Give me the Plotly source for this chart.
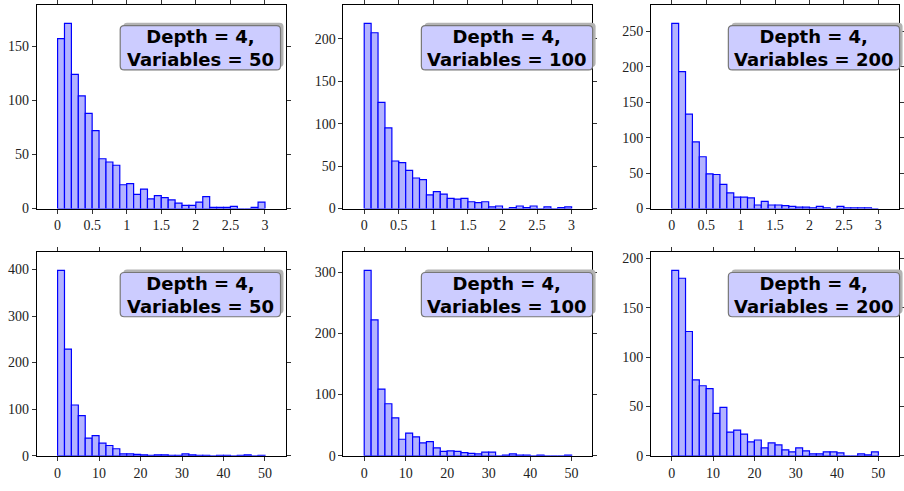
import numpy as np
import plotly.graph_objects as go

# ---- data (histogram counts, 30 bins each) ----
counts_d4_v50_a = [157, 171, 124, 104, 88, 72, 46, 43, 40, 22, 23, 13, 18, 9, 12,
                   10, 8, 5, 3, 3, 6, 11, 1, 1, 1, 2, 0, 0, 1, 6]
counts_d4_v100_a = [218, 207, 125, 95, 56, 54, 45, 36, 34, 16, 20, 17, 12, 11, 12,
                    8, 7, 8, 2, 3, 0, 1, 3, 1, 3, 0, 2, 0, 1, 2]
counts_d4_v200_a = [261, 193, 133, 94, 73, 49, 48, 34, 22, 16, 16, 15, 5, 10, 5,
                    5, 4, 3, 2, 2, 1, 3, 1, 0, 3, 1, 1, 1, 1, 0]
counts_d4_v50_b = [398, 229, 109, 86, 38, 43, 27, 22, 15, 4, 4, 3, 2, 1, 2,
                   2, 1, 1, 4, 2, 1, 1, 0, 1, 1, 0, 1, 2, 0, 1]
counts_d4_v100_b = [303, 222, 109, 85, 62, 27, 37, 31, 21, 23, 13, 7, 8, 7, 5,
                    4, 3, 6, 6, 0, 1, 3, 1, 1, 0, 1, 0, 0, 0, 1]
counts_d4_v200_b = [188, 180, 126, 77, 71, 68, 43, 49, 24, 26, 22, 14, 16, 8, 13,
                    11, 6, 4, 8, 5, 2, 2, 4, 4, 3, 0, 0, 2, 1, 4]

bin_range_top = [0.0, 3.0]
bin_range_bottom = [0.0, 50.0]
depths = [4, 4, 4, 4, 4, 4]
variables = [50, 100, 200, 50, 100, 200]
x_dticks = [0.5, 0.5, 0.5, 10, 10, 10]
y_dticks = [50, 50, 50, 100, 100, 50]

panels = [counts_d4_v50_a, counts_d4_v100_a, counts_d4_v200_a,
          counts_d4_v50_b, counts_d4_v100_b, counts_d4_v200_b]
ranges = [bin_range_top] * 3 + [bin_range_bottom] * 3

# ---- layout geometry (pixels) ----
W, H = 904, 491
x_px = [(37, 287), (345, 595), (654, 903)]
y_px = [(5, 212), (256, 463.3)]

fig = go.Figure()
layout = dict(width=W, height=H, margin=dict(l=0, r=0, t=0, b=0),
              paper_bgcolor="white", plot_bgcolor="white", showlegend=False)

shapes = []
annotations = []
tick_font = dict(family="Liberation Serif, DejaVu Serif, serif", size=14, color="#222")
box_font = dict(family="DejaVu Sans, sans-serif", size=18, color="black")

for i, counts in enumerate(panels):
    row, col = divmod(i, 3)
    n = i + 1
    xa = "x" if n == 1 else f"x{n}"
    ya = "y" if n == 1 else f"y{n}"
    lo, hi = ranges[i]
    edges = np.linspace(lo, hi, len(counts) + 1)
    centers = (edges[:-1] + edges[1:]) / 2
    width = edges[1] - edges[0]
    fig.add_trace(go.Bar(x=centers, y=counts, width=width,
                         marker=dict(color="rgb(179,179,255)",
                                     line=dict(color="rgb(0,0,255)", width=1.2)),
                         xaxis=xa, yaxis=ya, hoverinfo="skip"))
    span = hi - lo
    px0, px1 = x_px[col]
    py0, py1 = y_px[row]
    axis_common = dict(showline=True, linecolor="black", linewidth=1, mirror="ticks",
                       ticks="outside", ticklen=4, tickwidth=1, tickcolor="#333",
                       showgrid=False, zeroline=False, tickfont=tick_font)
    layout["xaxis" if n == 1 else f"xaxis{n}"] = dict(
        domain=[px0 / W, px1 / W], anchor=ya,
        range=[lo - 0.1 * span, hi + 0.1 * span], dtick=x_dticks[i], tick0=0,
        **axis_common)
    layout["yaxis" if n == 1 else f"yaxis{n}"] = dict(
        domain=[1 - py1 / H, 1 - py0 / H], anchor=xa,
        range=[0, max(counts) * 1.1], dtick=y_dticks[i], tick0=0,
        **axis_common)

    # annotation box (in axis-domain coordinates)
    xr = f"{xa} domain"
    yr = f"{ya} domain"
    wpx = px1 - px0
    hpx = py1 - py0
    half_w = (80.5 if variables[i] < 100 else 86.0) / wpx
    cx = 0.657
    bx0, bx1 = cx - half_w, cx + half_w
    by_top, by_bot = 1 - 21 / hpx, 1 - 66 / hpx
    rx, ry = 4 / wpx, 4 / hpx
    sdx, sdy = 3 / wpx, 3 / hpx

    def rr(x0, y0, x1, y1):
        return (f"M {x0+rx},{y0} L {x1-rx},{y0} Q {x1},{y0} {x1},{y0+ry} "
                f"L {x1},{y1-ry} Q {x1},{y1} {x1-rx},{y1} L {x0+rx},{y1} "
                f"Q {x0},{y1} {x0},{y1-ry} L {x0},{y0+ry} Q {x0},{y0} {x0+rx},{y0} Z")

    shapes.append(dict(type="path", xref=xr, yref=yr,
                       path=rr(bx0 + sdx, by_bot + sdy, bx1 + sdx, by_top + sdy),
                       fillcolor="#b3b3b3", line=dict(width=0), layer="above"))
    shapes.append(dict(type="path", xref=xr, yref=yr,
                       path=rr(bx0, by_bot, bx1, by_top),
                       fillcolor="rgb(204,204,255)",
                       line=dict(color="#777777", width=1.2), layer="above"))
    annotations.append(dict(xref=xr, yref=yr, x=cx, y=1 - 43.5 / hpx,
                            text=f"<b>Depth = {depths[i]},<br>Variables = {variables[i]}</b>",
                            showarrow=False, align="center",
                            xanchor="center", yanchor="middle", font=box_font))

layout["shapes"] = shapes
layout["annotations"] = annotations
fig.update_layout(**layout)
fig.write_html("out.html")
